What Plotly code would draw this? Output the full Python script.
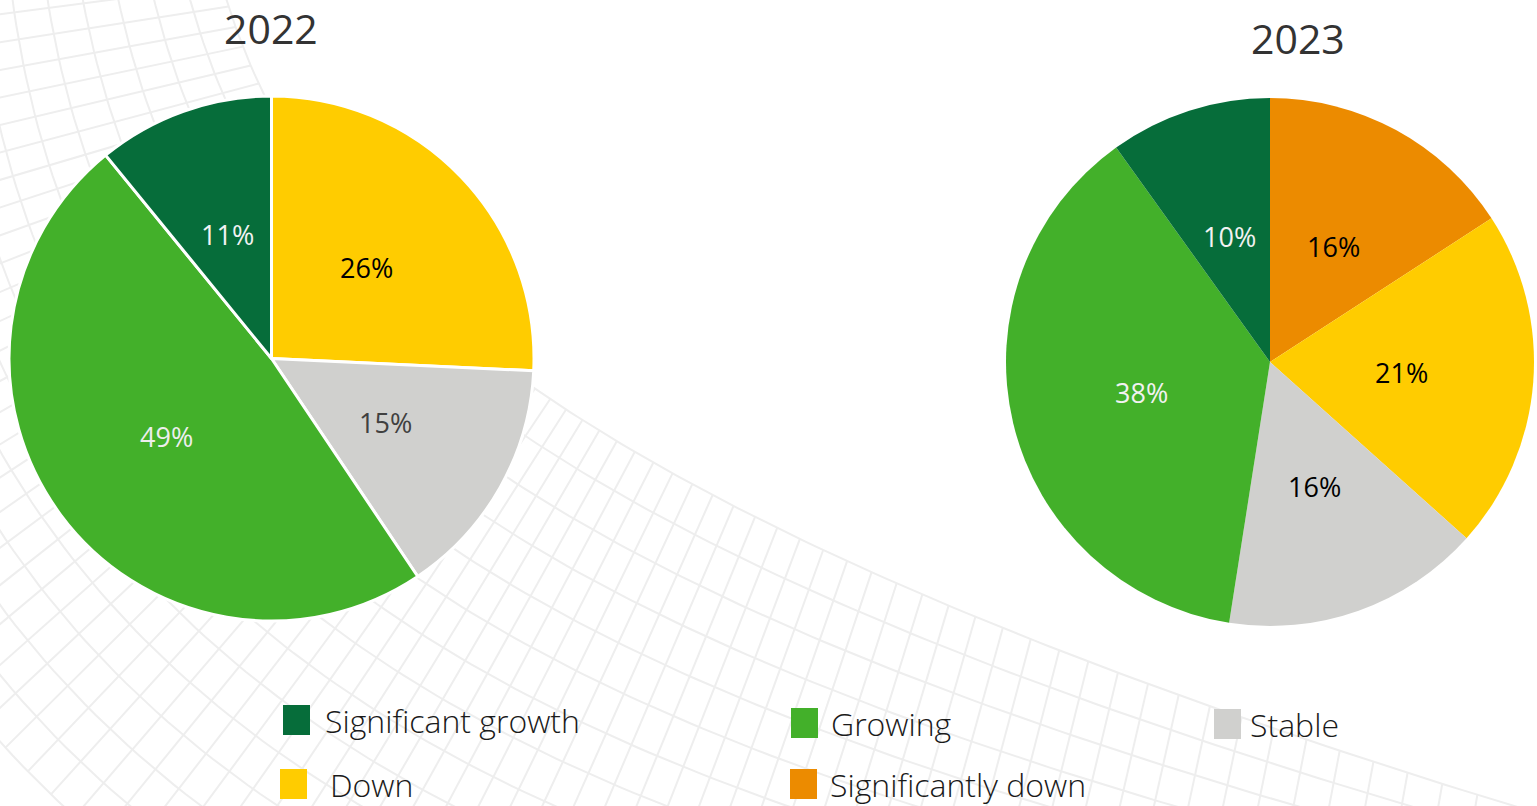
import math
import numpy as np
import plotly.graph_objects as go

W, H = 1537, 806

# Slice categories and shares (percent), listed clockwise from 12 o'clock
labels_2022 = ["Down", "Stable", "Growing", "Significant growth"]
values_2022 = [26, 15, 49, 11]

labels_2023 = ["Significantly down", "Down", "Stable", "Growing", "Significant growth"]
values_2023 = [16, 21, 16, 38, 10]

legend_order = ["Significant growth", "Growing", "Stable", "Down", "Significantly down"]

COLORS = {
    "Significant growth": "#066D3A",
    "Growing": "#43B02A",
    "Stable": "#D0D0CE",
    "Down": "#FFCC00",
    "Significantly down": "#EC8B00",
}
TEXT_2022 = {"Down": "#000000", "Stable": "#404040", "Growing": "#EEEEEE",
             "Significant growth": "#F2F2F2"}
TEXT_2023 = {"Significantly down": "#000000", "Down": "#000000", "Stable": "#000000",
             "Growing": "#F2F2F2", "Significant growth": "#F2F2F2"}

# Pie geometry in page pixels: centre and radius
PIES = [
    dict(year="2022", labels=labels_2022, values=values_2022, text=TEXT_2022,
         cx=271.5, cy=358.5, r=262.5, border=3, title=(271, 28)),
    dict(year="2023", labels=labels_2023, values=values_2023, text=TEXT_2023,
         cx=1270, cy=362, r=264, border=0, title=(1298, 38)),
]

fig = go.Figure()

# Decorative background: a faint twisted ribbon mesh behind the pies
CTRL = [np.array(p, dtype=float) for p in [(-30, -100), (0, 700), (700, 900), (1750, 1050)]]


def ribbon_point(t, s):
    p0, p1, p2, p3 = CTRL
    pt = ((1 - t) ** 3) * p0 + 3 * ((1 - t) ** 2) * t * p1 + 3 * (1 - t) * t * t * p2 + t ** 3 * p3
    d = 3 * ((1 - t) ** 2) * (p1 - p0) + 6 * (1 - t) * t * (p2 - p1) + 3 * t * t * (p3 - p2)
    n = np.array([d[1], -d[0]]) / np.hypot(*d)
    w = 230 * (1 - t) + 170 * t + 110 * math.sin(math.pi * t)
    return pt + n * s * w


mesh_x, mesh_y = [], []
for s in np.linspace(-1, 1, 15):
    for t in np.linspace(0, 1, 160):
        x, y = ribbon_point(t, s)
        mesh_x.append(x)
        mesh_y.append(y)
    mesh_x.append(None)
    mesh_y.append(None)
for t in np.linspace(0, 1, 80):
    for s in np.linspace(-1, 1, 40):
        x, y = ribbon_point(t, s)
        mesh_x.append(x)
        mesh_y.append(y)
    mesh_x.append(None)
    mesh_y.append(None)

fig.add_trace(go.Scatter(x=mesh_x, y=mesh_y, mode="lines",
                         line=dict(color="#EEEEEE", width=2),
                         hoverinfo="skip", showlegend=False))

annotations = []
shapes = []

for p in PIES:
    fig.add_trace(go.Pie(
        labels=p["labels"],
        values=p["values"],
        sort=False,
        direction="clockwise",
        rotation=0,
        marker=dict(colors=[COLORS[l] for l in p["labels"]],
                    line=dict(color="white", width=p["border"])),
        textinfo="none",
        domain=dict(x=[(p["cx"] - p["r"]) / W, (p["cx"] + p["r"]) / W],
                    y=[1 - (p["cy"] + p["r"]) / H, 1 - (p["cy"] - p["r"]) / H]),
        hoverinfo="label+value",
        showlegend=False,
    ))
    # Percentage labels at half radius on each slice's bisector
    total = sum(p["values"])
    acc = 0.0
    for lab, val in zip(p["labels"], p["values"]):
        mid = (acc + val / 2) / total * 2 * math.pi
        acc += val
        annotations.append(dict(
            text=f"{val}%", xref="x", yref="y",
            x=p["cx"] + 0.5 * p["r"] * math.sin(mid),
            y=p["cy"] - 0.5 * p["r"] * math.cos(mid),
            showarrow=False, xanchor="center", yanchor="middle",
            font=dict(family="Open Sans", size=27, color=p["text"][lab]),
        ))
    annotations.append(dict(
        text=p["year"], xref="x", yref="y", x=p["title"][0], y=p["title"][1],
        showarrow=False, xanchor="center", yanchor="middle",
        font=dict(family="Open Sans", size=41, color="#333333"),
    ))

# Legend: swatch + label placed in a two-row grid below the pies
legend_pos = {
    "Significant growth": (283, 720, 323),
    "Growing": (791, 723, 829),
    "Stable": (1214, 724, 1248),
    "Down": (280, 784, 328),
    "Significantly down": (790, 784, 828),
}
for name in legend_order:
    sx, cy, tx = legend_pos[name]
    shapes.append(dict(type="rect", xref="x", yref="y",
                       x0=sx, x1=sx + 27, y0=cy - 15, y1=cy + 15,
                       fillcolor=COLORS[name], line=dict(width=0)))
    annotations.append(dict(text=name, x=tx, y=cy, xref="x", yref="y",
                            showarrow=False, xanchor="left", yanchor="middle",
                            font=dict(family="Open Sans", size=32, color="#1A1A1A", weight=300)))

fig.update_layout(
    width=W, height=H,
    margin=dict(l=0, r=0, t=0, b=0),
    paper_bgcolor="white",
    plot_bgcolor="white",
    xaxis=dict(range=[0, W], visible=False, fixedrange=True),
    yaxis=dict(range=[H, 0], visible=False, fixedrange=True),
    annotations=annotations,
    shapes=shapes,
)

fig.write_html("out.html")
